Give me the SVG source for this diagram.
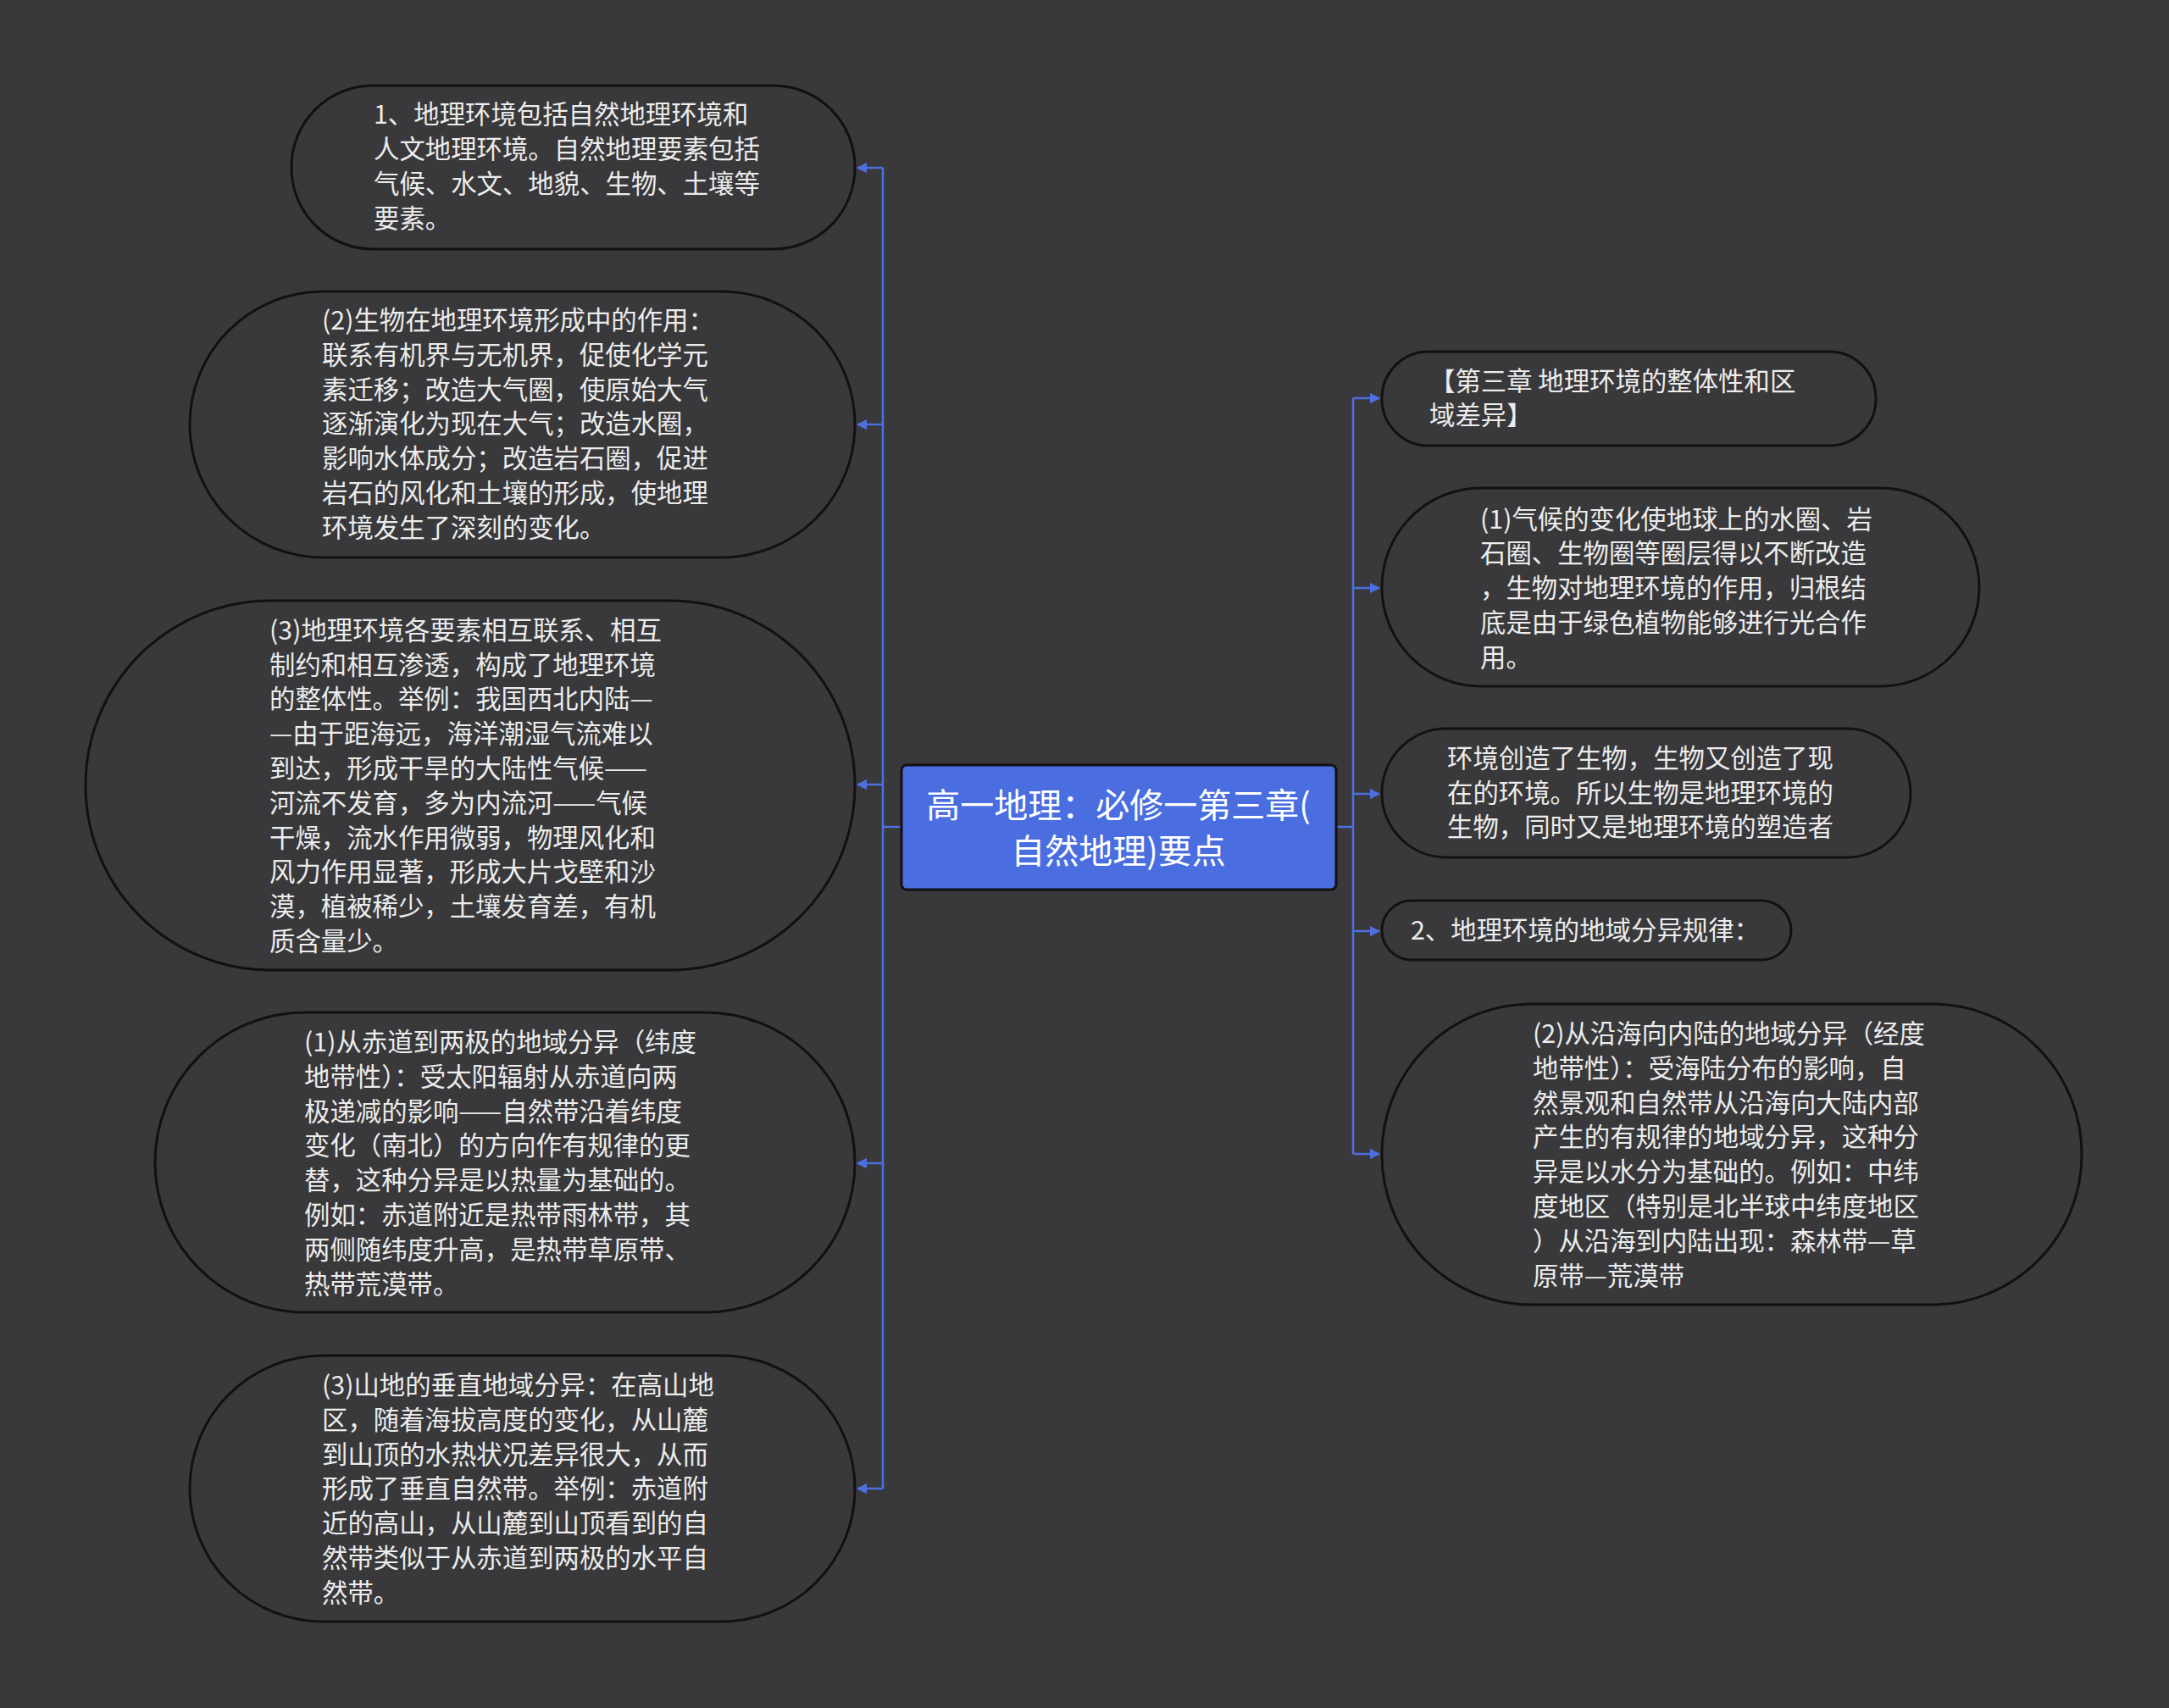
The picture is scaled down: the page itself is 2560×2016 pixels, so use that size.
<svg xmlns="http://www.w3.org/2000/svg" width="2560" height="2016" viewBox="0 0 2560 2016">
<style>
.n{fill:#39393b;stroke:#111;stroke-width:3}
.t{font-family:"Noto Sans CJK SC","Liberation Sans",sans-serif;font-size:30.4px;fill:#ececec;dominant-baseline:central}
.c{fill:none;stroke:#4d6fe0;stroke-width:2.5}
.ct{font-family:"Noto Sans CJK SC","Liberation Sans",sans-serif;font-size:40px;fill:#fff;dominant-baseline:central;text-anchor:middle}
</style>
<defs><marker id="a" viewBox="0 0 10 10" refX="9" refY="5" markerWidth="5" markerHeight="5" orient="auto"><path d="M0,0L10,5L0,10z" fill="#4d6fe0"/></marker></defs>
<rect width="2560" height="2016" fill="#39393b"/>
<g id="connectors">
<path class="c" d="M1064,976H1042"/>
<path class="c" d="M1042,198V1757"/>
<path class="c" d="M1042,198H1012" marker-end="url(#a)"/>
<path class="c" d="M1042,501H1012" marker-end="url(#a)"/>
<path class="c" d="M1042,926H1012" marker-end="url(#a)"/>
<path class="c" d="M1042,1373H1012" marker-end="url(#a)"/>
<path class="c" d="M1042,1757H1012" marker-end="url(#a)"/>
<path class="c" d="M1577,976H1597"/>
<path class="c" d="M1597,470V1362"/>
<path class="c" d="M1597,470H1628" marker-end="url(#a)"/>
<path class="c" d="M1597,694H1628" marker-end="url(#a)"/>
<path class="c" d="M1597,937H1628" marker-end="url(#a)"/>
<path class="c" d="M1597,1099H1628" marker-end="url(#a)"/>
<path class="c" d="M1597,1362H1628" marker-end="url(#a)"/>
</g>
<g id="center"><rect x="1064" y="903" width="513" height="147" rx="6" fill="#4a6ee0" stroke="#111" stroke-width="3"/>
<text class="ct"><tspan x="1320" y="948">高一地理：必修一第三章(</tspan><tspan x="1320" y="1002">自然地理)要点</tspan></text></g>
<g transform="translate(0,-3)">
<g id="l1"><rect class="n" x="344" y="104" width="665" height="193" rx="96"/>
<text class="t"><tspan x="441" y="136">1、地理环境包括自然地理环境和</tspan><tspan x="441" y="177">人文地理环境。自然地理要素包括</tspan><tspan x="441" y="218">气候、水文、地貌、生物、土壤等</tspan><tspan x="441" y="259">要素。</tspan></text></g>
<g id="l2"><rect class="n" x="224" y="347" width="785" height="314" rx="157"/>
<text class="t"><tspan x="380" y="379">(2)生物在地理环境形成中的作用：</tspan><tspan x="380" y="420">联系有机界与无机界，促使化学元</tspan><tspan x="380" y="461">素迁移；改造大气圈，使原始大气</tspan><tspan x="380" y="501">逐渐演化为现在大气；改造水圈，</tspan><tspan x="380" y="542">影响水体成分；改造岩石圈，促进</tspan><tspan x="380" y="583">岩石的风化和土壤的形成，使地理</tspan><tspan x="380" y="624">环境发生了深刻的变化。</tspan></text></g>
<g id="l3"><rect class="n" x="101" y="712" width="908" height="436" rx="218"/>
<text class="t"><tspan x="318" y="745">(3)地理环境各要素相互联系、相互</tspan><tspan x="318" y="786">制约和相互渗透，构成了地理环境</tspan><tspan x="318" y="826">的整体性。举例：我国西北内陆—</tspan><tspan x="318" y="867">—由于距海远，海洋潮湿气流难以</tspan><tspan x="318" y="908">到达，形成干旱的大陆性气候——</tspan><tspan x="318" y="949">河流不发育，多为内流河——气候</tspan><tspan x="318" y="990">干燥，流水作用微弱，物理风化和</tspan><tspan x="318" y="1030">风力作用显著，形成大片戈壁和沙</tspan><tspan x="318" y="1071">漠，植被稀少，土壤发育差，有机</tspan><tspan x="318" y="1112">质含量少。</tspan></text></g>
<g id="l4"><rect class="n" x="183" y="1198" width="826" height="354" rx="177"/>
<text class="t"><tspan x="359" y="1231">(1)从赤道到两极的地域分异（纬度</tspan><tspan x="359" y="1272">地带性）：受太阳辐射从赤道向两</tspan><tspan x="359" y="1313">极递减的影响——自然带沿着纬度</tspan><tspan x="359" y="1353">变化（南北）的方向作有规律的更</tspan><tspan x="359" y="1394">替，这种分异是以热量为基础的。</tspan><tspan x="359" y="1435">例如：赤道附近是热带雨林带，其</tspan><tspan x="359" y="1476">两侧随纬度升高，是热带草原带、</tspan><tspan x="359" y="1517">热带荒漠带。</tspan></text></g>
<g id="l5"><rect class="n" x="224" y="1603" width="785" height="314" rx="157"/>
<text class="t"><tspan x="380" y="1636">(3)山地的垂直地域分异：在高山地</tspan><tspan x="380" y="1677">区，随着海拔高度的变化，从山麓</tspan><tspan x="380" y="1718">到山顶的水热状况差异很大，从而</tspan><tspan x="380" y="1758">形成了垂直自然带。举例：赤道附</tspan><tspan x="380" y="1799">近的高山，从山麓到山顶看到的自</tspan><tspan x="380" y="1840">然带类似于从赤道到两极的水平自</tspan><tspan x="380" y="1881">然带。</tspan></text></g>
<g id="r1"><rect class="n" x="1631" y="418" width="583" height="111" rx="55"/>
<text class="t"><tspan x="1687" y="451">【第三章  地理环境的整体性和区</tspan><tspan x="1687" y="491">域差异】</tspan></text></g>
<g id="r2"><rect class="n" x="1631" y="579" width="705" height="234" rx="117"/>
<text class="t"><tspan x="1747" y="614">(1)气候的变化使地球上的水圈、岩</tspan><tspan x="1747" y="654">石圈、生物圈等圈层得以不断改造</tspan><tspan x="1747" y="695">，生物对地理环境的作用，归根结</tspan><tspan x="1747" y="736">底是由于绿色植物能够进行光合作</tspan><tspan x="1747" y="777">用。</tspan></text></g>
<g id="r3"><rect class="n" x="1631" y="863" width="624" height="152" rx="76"/>
<text class="t"><tspan x="1708" y="896">环境创造了生物，生物又创造了现</tspan><tspan x="1708" y="937">在的环境。所以生物是地理环境的</tspan><tspan x="1708" y="977">生物，同时又是地理环境的塑造者</tspan></text></g>
<g id="r4"><rect class="n" x="1631" y="1066" width="483" height="70" rx="35"/>
<text class="t"><tspan x="1665" y="1099">2、地理环境的地域分异规律：</tspan></text></g>
<g id="r5"><rect class="n" x="1631" y="1188" width="826" height="355" rx="177"/>
<text class="t"><tspan x="1809" y="1221">(2)从沿海向内陆的地域分异（经度</tspan><tspan x="1809" y="1262">地带性）：受海陆分布的影响，自</tspan><tspan x="1809" y="1303">然景观和自然带从沿海向大陆内部</tspan><tspan x="1809" y="1343">产生的有规律的地域分异，这种分</tspan><tspan x="1809" y="1384">异是以水分为基础的。例如：中纬</tspan><tspan x="1809" y="1425">度地区（特别是北半球中纬度地区</tspan><tspan x="1809" y="1466">）从沿海到内陆出现：森林带—草</tspan><tspan x="1809" y="1507">原带—荒漠带</tspan></text></g>
</g>
</svg>
